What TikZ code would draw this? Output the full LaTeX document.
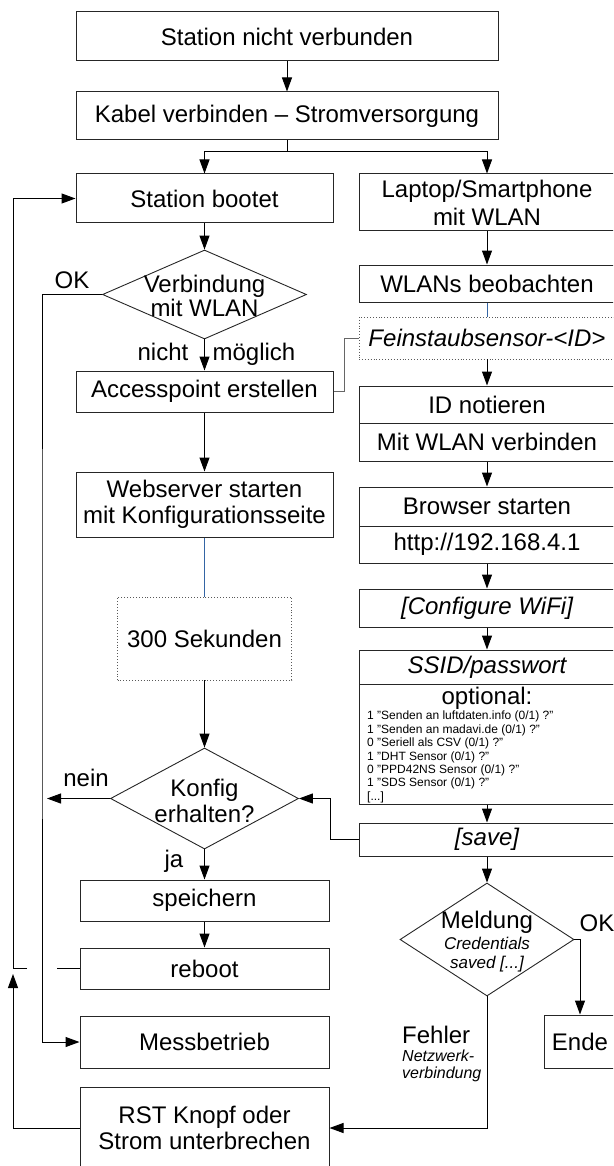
\documentclass[tikz,border=0pt]{standalone}
\usepackage{fontspec}
\setmainfont{Liberation Sans}
\usetikzlibrary{arrows.meta,shapes.geometric}
\definecolor{lnblue}{HTML}{3465A4}
\definecolor{lngrey}{HTML}{666666}
\begin{document}
\begin{tikzpicture}[x=1pt,y=-1pt,
  every node/.style={font=\fontsize{24}{27}\selectfont, inner sep=0pt},
  box/.style={draw=black!85, line width=1pt, rectangle, align=center},
  dotbox/.style={draw=black!65, dotted, line width=0.9pt, rectangle, align=center},
  dia/.style={draw=black!85, line width=0.9pt, diamond},
  arr/.style={draw=black, line width=1pt, -{Triangle[length=14pt,width=10pt]}},
  conn/.style={draw=black, line width=1pt},
  blueline/.style={draw=lnblue, line width=0.8pt},
  greyline/.style={draw=lngrey, line width=1pt},
  lbl/.style={text height=17pt, text depth=5pt}
]
\clip (0,0) rectangle (613,1166);

% top
\node[box, minimum width=422pt, minimum height=49pt] (A) at (287,36.5) {Station nicht verbunden};
\node[box, minimum width=422pt, minimum height=48pt] (B) at (287,116) {Kabel verbinden – Stromversorgung};

% left column
\node[box, minimum width=257pt, minimum height=49pt] (boot) at (204.5,198.5) {Station bootet};
\node[dia, minimum width=204pt, minimum height=89pt] (d1) at (204.5,294.5) {};
\node[align=center, font=\fontsize{24}{24}\selectfont] (d1t) at (204.5,296) {Verbindung\\mit WLAN};
\node[box, minimum width=257pt, minimum height=41pt] (ap) at (204.5,391.5) {Accesspoint erstellen};
\node[box, minimum width=257pt, minimum height=65pt, font=\fontsize{24}{26}\selectfont] (web) at (204.5,504.5) {Webserver starten\\mit Konfigurationsseite};
\node[dotbox, minimum width=174pt, minimum height=83pt] (sek) at (204.5,638.5) {300 Sekunden};
\node[dia, minimum width=188pt, minimum height=101pt] (d2) at (204.5,798.5) {};
\node[align=center, font=\fontsize{24}{26}\selectfont] (d2t) at (204.5,801) {Konfig\\erhalten?};
\node[box, minimum width=249pt, minimum height=41pt] (spe) at (204.5,900.5) {speichern};
\node[box, minimum width=249pt, minimum height=41pt] (reb) at (204.5,968.5) {reboot};
\node[box, minimum width=249pt, minimum height=52pt] (mess) at (204.5,1042) {Messbetrieb};
\node[box, minimum width=249pt, minimum height=82pt, font=\fontsize{24}{26}\selectfont] (rst) at (204.5,1128) {RST Knopf oder\\Strom unterbrechen};

% right column
\node[box, minimum width=256pt, minimum height=57pt, font=\fontsize{24}{28}\selectfont] (lap) at (487,202.5) {Laptop/Smartphone\\mit WLAN};
\node[box, minimum width=256pt, minimum height=37pt] (wlans) at (487,283.5) {WLANs beobachten};
\node[dotbox, minimum width=256pt, minimum height=42pt] (fein) at (487,338) {\itshape Feinstaubsensor-<ID>};
\node[box, minimum width=256pt, minimum height=37pt] (id) at (487,404.5) {ID notieren};
\node[box, minimum width=256pt, minimum height=38pt] (mit) at (487,442) {Mit WLAN verbinden};
\node[box, minimum width=256pt, minimum height=39pt] (brow) at (487,506.5) {Browser starten};
\node[box, minimum width=256pt, minimum height=37pt] (http) at (487,544.5) {http://192.168.4.1};
\node[box, minimum width=256pt, minimum height=38pt] (conf) at (487,608) {\itshape [Configure WiFi]};
\node[box, minimum width=256pt, minimum height=34pt] (ssid) at (487,667) {\itshape SSID/passwort};
\node[box, minimum width=256pt, minimum height=120pt] (opt) at (487,744) {};
\node (optt) at (487,698) {optional:};
\node[anchor=north west, align=left, font=\fontsize{12}{13.4}\selectfont] (optl) at (367,711)
  {1 "Senden an luftdaten.info (0/1) ?"\\1 "Senden an madavi.de (0/1) ?"\\0 "Seriell als CSV (0/1) ?"\\1 "DHT Sensor (0/1) ?"\\0 "PPD42NS Sensor (0/1) ?"\\1 "SDS Sensor (0/1) ?"\\{[...]}};
\node[box, minimum width=256pt, minimum height=33pt] (save) at (487,839.5) {\itshape [save]};
\node[dia, minimum width=174pt, minimum height=113pt] (d3) at (487,939.5) {};
\node (d3a) at (487,922) {Meldung};
\node[align=center, font=\fontsize{17}{19}\selectfont\itshape] (d3b) at (487,955) {Credentials\\saved [...]};
\node[box, minimum width=72pt, minimum height=53pt] (ende) at (580,1041.5) {Ende};

% labels
\node[lbl] (ok1) at (72,282) {OK};
\node[lbl] (nicht) at (163,354) {nicht};
\node[lbl] (moeg) at (254,354) {möglich};
\node[lbl] (nein) at (86,780) {nein};
\node[lbl] (ja) at (174,861) {ja};
\node[lbl] (ok2) at (597,925) {OK};
\node[anchor=west] (feh) at (402,1035) {Fehler};
\node[anchor=north west, align=left, font=\fontsize{16}{17}\selectfont\itshape] (netz) at (402,1050) {Netzwerk-\\verbindung};

% coordinates
\coordinate (split) at (287,152);
\coordinate (okx) at (42,600);
\coordinate (neinend) at (47,798.5);
\coordinate (j1) at (57,968.5);
\coordinate (j2) at (27,968.5);
\coordinate (lx) at (13,968.5);
\coordinate (rstup) at (13,974);
\coordinate (apx) at (344,391.5);
\coordinate (savex) at (330,839.5);
\coordinate (fehy) at (487,1128);

% connectors
\draw[arr] (A) -- (B);
\draw[conn] (B.south) -- (split);
\draw[arr] (split) -| (boot.north);
\draw[arr] (split) -| (lap.north);
\draw[arr] (boot) -- (d1);
\draw[arr] (d1) -- (ap);
\draw[arr] (d1.west) -| (okx) |- (mess.west);
\draw[arr] (ap) -- (web);
\draw[blueline] (web) -- (sek);
\draw[arr] (sek) -- (d2);
\draw[arr] (d2.west) -- (neinend);
\draw[arr] (d2) -- (spe);
\draw[arr] (spe) -- (reb);
\draw[conn] (reb.west) -- (j1);
\draw[arr] (j2) -- (lx) |- (boot.west);
\draw[arr] (rst.west) -| (rstup);

\draw[arr] (lap) -- (wlans);
\draw[blueline] (wlans) -- (fein);
\draw[greyline] (ap.east) -- (apx) |- (fein.west);
\draw[arr] (fein) -- (id);
\draw[arr] (mit) -- (brow);
\draw[arr] (http) -- (conf);
\draw[arr] (conf) -- (ssid);
\draw[arr] (opt) -- (save);
\draw[arr] (save.west) -- (savex) |- (d2.east);
\draw[arr] (save) -- (d3);
\draw[arr] (d3.east) -| (ende.north);
\draw[arr] (d3.south) -- (fehy) -- (rst.east);
\end{tikzpicture}
\end{document}
